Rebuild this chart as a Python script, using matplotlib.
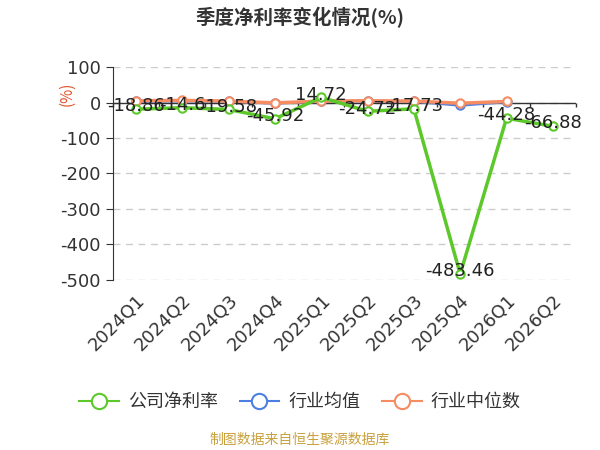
import numpy as np
import matplotlib.pyplot as plt
from matplotlib.lines import Line2D

plt.rcParams['font.family'] = ['Noto Sans CJK SC', 'DejaVu Sans']

quarters = ['2024Q1', '2024Q2', '2024Q3', '2024Q4', '2025Q1', '2025Q2',
            '2025Q3', '2025Q4', '2026Q1', '2026Q2']
company = [-18.86, -14.6, -19.58, -45.92, 14.72, -24.72, -17.73, -483.46, -44.28, -66.88]
ind_mean = [3, 4, 3, -2, 3, 4, 3, -8, 2]
ind_median = [5, 6, 4, -1, 4, 5, 4, -2, 3]

green = '#5cc82a'
blue = '#4d7fe3'
orange = '#f58c62'

fig = plt.figure(figsize=(6, 4.5), dpi=100)
ax = fig.add_axes([0.188, 0.378, 0.772, 0.473])

x = np.arange(len(quarters))
mk = dict(marker='o', markersize=6, markerfacecolor='white', markeredgewidth=1.5)
ax.plot(x[:len(ind_mean)], ind_mean, color=blue, lw=2, zorder=3, **mk)
ax.plot(x[:len(ind_median)], ind_median, color=orange, lw=2.5, zorder=4, **mk)
ax.plot(x, company, color=green, lw=2.5, zorder=5, **mk)

for xi, v in zip(x, company):
    ax.annotate(f'{v:g}', (xi, v), xytext=(0, 2), textcoords='offset points',
                ha='center', va='center', fontsize=13, color='#222222',
                zorder=6, family='DejaVu Sans')

ax.set_xlim(-0.5, len(quarters) - 0.5)
ax.set_ylim(-500, 100)
ax.set_yticks(np.arange(-500, 101, 100))
ax.grid(axis='y', color='#cccccc', linestyle=(0, (5, 4)), lw=1)
ax.set_axisbelow(True)

for s in ['top', 'right', 'bottom']:
    ax.spines[s].set_visible(False)
ax.spines['left'].set_color('#333333')
ax.tick_params(axis='y', colors='#333333', labelsize=13, length=5, color='#333333')
ax.set_yticklabels([str(v) for v in range(-500, 101, 100)], family='DejaVu Sans')

# zero axis line with boundary ticks
ax.axhline(0, color='#333333', lw=1, zorder=2)
ax.vlines(np.arange(-0.5, len(quarters)), 0, -14, color='#333333', lw=1, clip_on=False)

ax.set_xticks(x)
ax.set_xticklabels(quarters, rotation=45, ha='right', rotation_mode='anchor',
                   fontsize=13, color='#333333', family='DejaVu Sans')
ax.tick_params(axis='x', length=0, pad=8)

ax.text(-0.099, 0.875, '(%)', transform=ax.transAxes, rotation=90, color='#e0522a',
        fontsize=11, ha='center', va='center')

fig.text(0.5, 0.962, '季度净利率变化情况(%)', ha='center', va='center',
         fontsize=14, fontweight='bold', color='#333333')

handles = [Line2D([], [], color=c, lw=1.5, marker='o', markersize=11,
                  markerfacecolor='white', markeredgewidth=1.5)
           for c in (green, blue, orange)]
fig.legend(handles, ['公司净利率', '行业均值', '行业中位数'], loc='center',
           bbox_to_anchor=(0.5, 0.107), ncol=3, frameon=False, fontsize=13,
           handlelength=2.2, columnspacing=1.2, handletextpad=0.5,
           labelcolor='#333333')

fig.text(0.5, 0.022, '制图数据来自恒生聚源数据库', ha='center', va='center',
         fontsize=10, color='#c9a13f')

fig.savefig('out.png', dpi=100)
